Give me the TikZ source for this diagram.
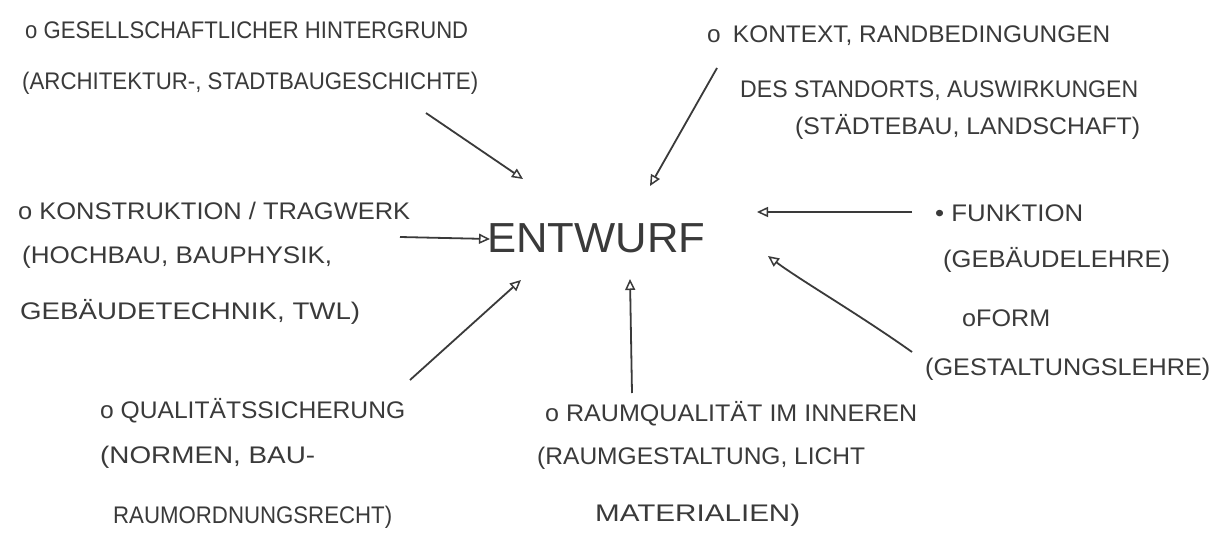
\documentclass[tikz,border=0pt]{standalone}
\usepackage{fontspec}
\setmainfont{Liberation Sans}
\usetikzlibrary{arrows.meta}
\definecolor{ink}{HTML}{3A3A3A}
\newcommand{\fitw}[2]{\resizebox{#1pt}{\height}{#2}}
\tikzset{
  hw/.style={anchor=base west, inner sep=0pt, text=ink, font=\fontsize{24}{28}\selectfont},
  big/.style={anchor=base west, inner sep=0pt, text=ink, font=\fontsize{42}{48}\selectfont},
  arr/.style={draw=ink, line width=1.8pt, -{Triangle[open, length=11pt, width=10pt, line width=1.5pt]}}
}
\begin{document}
\begin{tikzpicture}[x=1pt,y=-1pt]
\useasboundingbox[fill=white] (0,0) rectangle (1227,535);
% texts
\node[hw] (g1) at (25,39) {\fitw{443}{o GESELLSCHAFTLICHER HINTERGRUND}};
\node[hw] (g2) at (22,89) {\fitw{456}{(ARCHITEKTUR-, STADTBAUGESCHICHTE)}};
\node[hw] (k1) at (707,43) {\fitw{403}{o\enspace KONTEXT, RANDBEDINGUNGEN}};
\node[hw] (k2) at (740,97) {\fitw{398}{DES STANDORTS, AUSWIRKUNGEN}};
\node[hw] (k3) at (795,134) {\fitw{345}{(STÄDTEBAU, LANDSCHAFT)}};
\node[hw] (c1) at (18,219) {\fitw{392}{o KONSTRUKTION / TRAGWERK}};
\node[hw] (c2) at (22,263) {\fitw{310}{(HOCHBAU, BAUPHYSIK,}};
\node[hw] (c3) at (20,319) {\fitw{340}{GEBÄUDETECHNIK, TWL)}};
\node[big] (e) at (487,252) {\fitw{218}{ENTWURF}};
\node[hw] (f1) at (935,221) {\fitw{148}{• FUNKTION}};
\node[hw] (f2) at (943,267) {\fitw{227}{(GEBÄUDELEHRE)}};
\node[hw] (f3) at (962,326) {\fitw{88}{oFORM}};
\node[hw] (f4) at (925,375) {\fitw{285}{(GESTALTUNGSLEHRE)}};
\node[hw] (q1) at (100,418) {\fitw{305}{o QUALITÄTSSICHERUNG}};
\node[hw] (q2) at (100,463) {\fitw{215}{(NORMEN, BAU-}};
\node[hw] (q3) at (113,523) {\fitw{279}{RAUMORDNUNGSRECHT)}};
\node[hw] (r1) at (545,421) {\fitw{372}{o RAUMQUALITÄT IM INNEREN}};
\node[hw] (r2) at (537,464) {\fitw{328}{(RAUMGESTALTUNG, LICHT}};
\node[hw] (r3) at (595,521) {\fitw{205}{MATERIALIEN)}};
% arrow ends
\coordinate (gS) at (426,113);
\coordinate (gE) at (523,179);
\coordinate (kS) at (717,68);
\coordinate (kE) at (650,186);
\coordinate (cS) at (400,237);
\coordinate (cE) at (490,239);
\coordinate (fS) at (912,212);
\coordinate (fE) at (757,212);
\coordinate (mS) at (912,352);
\coordinate (mE) at (768,256);
\coordinate (qS) at (410,380);
\coordinate (qE) at (521,280);
\coordinate (rS) at (632,393);
\coordinate (rE) at (630,279);
\draw[arr] (gS) -- (gE);
\draw[arr] (kS) -- (kE);
\draw[arr] (cS) -- (cE);
\draw[arr] (fS) -- (fE);
\draw[arr] (mS) .. controls (860,315) and (800,280) .. (mE);
\draw[arr] (qS) -- (qE);
\draw[arr] (rS) -- (rE);
\end{tikzpicture}
\end{document}
